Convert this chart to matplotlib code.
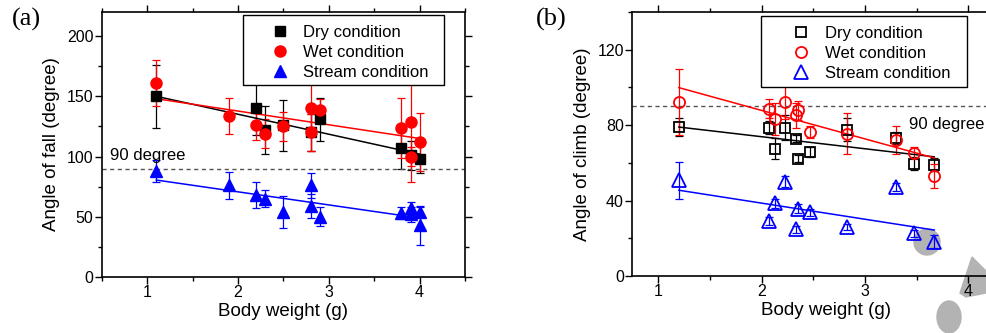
import matplotlib
matplotlib.use('Agg')
import matplotlib.pyplot as plt
from matplotlib.lines import Line2D
from matplotlib.patches import Rectangle, Circle, Polygon, Ellipse
from matplotlib.transforms import IdentityTransform
from matplotlib.ticker import MultipleLocator

plt.rcParams['font.family'] = ['Liberation Sans', 'DejaVu Sans']

# ---- panel (a): angle of fall ----
fall_dry_x = [1.1, 2.2, 2.3, 2.5, 2.8, 2.9, 3.8, 3.9, 4.0]
fall_dry_y = [150, 140, 122, 126, 120, 131, 107, 101, 98]
fall_dry_e = [26, 22, 20, 21, 15, 18, 17, 12, 12]

fall_wet_x = [1.1, 1.9, 2.2, 2.3, 2.5, 2.8, 2.8, 2.9, 3.8, 3.9, 3.9, 4.0]
fall_wet_y = [161, 134, 126, 119, 125, 140, 120, 139, 124, 129, 100, 112]
fall_wet_e = [19, 15, 12, 12, 12, 35, 15, 9, 25, 50, 8, 24]

fall_str_x = [1.1, 1.9, 2.2, 2.3, 2.5, 2.8, 2.8, 2.9, 3.8, 3.9, 3.9, 4.0, 4.0]
fall_str_y = [88, 76, 68, 65, 54, 76, 59, 50, 53, 57, 52, 54, 43]
fall_str_e = [9, 11, 11, 7, 13, 10, 10, 8, 5, 5, 6, 4, 16]

fall_fit_x = [1.1, 4.0]
fall_fit_dry = [150, 102]
fall_fit_wet = [148, 115]
fall_fit_str = [80.5, 49]

# ---- panel (b): angle of climb ----
climb_x = [1.2, 2.07, 2.13, 2.23, 2.33, 2.35, 2.47, 2.83, 3.30, 3.47, 3.67]
climb_dry_y = [79, 78.7, 67.6, 78.7, 72.9, 62.3, 65.8, 77.6, 73.2, 59.6, 59.1]
climb_dry_e = [5, 3.5, 5.5, 6.5, 2, 2, 2.5, 6, 3, 3.5, 3.5]
climb_wet_y = [92.3, 88.8, 83.1, 92.3, 85.2, 87.9, 76.4, 75.5, 72, 65.3, 53.1]
climb_wet_e = [17.5, 5, 8.5, 9, 6.5, 5, 3, 11, 7.5, 3, 6.5]
climb_str_y = [50.8, 29.3, 38.5, 50, 24.7, 35.8, 33.7, 26.1, 47.3, 22.6, 18.2]
climb_str_e = [9.7, 2, 2.5, 3, 2, 2.5, 2, 1.5, 2, 2, 3.5]

climb_fit_x = [1.2, 3.67]
climb_fit_dry = [79, 63.2]
climb_fit_wet = [99.9, 62.6]
climb_fit_str = [45.5, 24.4]

labels = ['Dry condition', 'Wet condition', 'Stream condition']
colors = ['black', 'red', 'blue']
markers = ['s', 'o', '^']
size_a = [7.5, 8, 9]
size_b = [7, 8, 9.5]

fig = plt.figure(figsize=(9.86, 3.33), dpi=100)
ax_a = fig.add_axes([0.1034, 0.168, 0.3682, 0.796])
ax_b = fig.add_axes([0.6413, 0.171, 0.3933, 0.793])
ax_b.patch.set_alpha(0)


def style_axes(ax, xlim, ylim, ymaj, ylabel):
    ax.set_xlim(*xlim)
    ax.set_ylim(*ylim)
    ax.xaxis.set_major_locator(MultipleLocator(1))
    ax.xaxis.set_minor_locator(MultipleLocator(0.5))
    ax.yaxis.set_major_locator(MultipleLocator(ymaj))
    ax.yaxis.set_minor_locator(MultipleLocator(ymaj / 2))
    ax.tick_params(which='both', direction='out', top=True, right=True,
                   labelsize=11.5, width=1, pad=1)
    ax.tick_params(which='major', length=5)
    ax.tick_params(which='minor', length=3)
    for s in ax.spines.values():
        s.set_linewidth(1.2)
    ax.set_xlabel('Body weight (g)', fontsize=13.5, labelpad=2)
    ax.set_ylabel(ylabel, fontsize=13.5, labelpad=5)


# panel (a)
sets_a = [(fall_dry_x, fall_dry_y, fall_dry_e, fall_fit_dry),
          (fall_wet_x, fall_wet_y, fall_wet_e, fall_fit_wet),
          (fall_str_x, fall_str_y, fall_str_e, fall_fit_str)]
for (x, y, e, fit), c, m, ms in zip(sets_a, colors, markers, size_a):
    ax_a.errorbar(x, y, yerr=e, fmt='none', ecolor=c, elinewidth=0.9,
                  capsize=3, capthick=0.9, zorder=2)
    ax_a.plot(x, y, ls='none', marker=m, color=c, markersize=ms, zorder=3)
    ax_a.plot(fall_fit_x, fit, color=c, lw=1.1, zorder=2.5)
ax_a.axhline(90, color='#555555', ls=(0, (3, 2.5)), lw=1)
ax_a.text(0.59, 97, '90 degree', fontsize=12)
style_axes(ax_a, (0.5, 4.5), (0, 220), 50, 'Angle of fall (degree)')

# panel (b)
sets_b = [(climb_dry_y, climb_dry_e, climb_fit_dry),
          (climb_wet_y, climb_wet_e, climb_fit_wet),
          (climb_str_y, climb_str_e, climb_fit_str)]
for (y, e, fit), c, m, ms in zip(sets_b, colors, markers, size_b):
    ax_b.errorbar(climb_x, y, yerr=e, fmt='none', ecolor=c, elinewidth=0.9,
                  capsize=3, capthick=0.9, zorder=2)
    ax_b.plot(climb_x, y, ls='none', marker=m, markerfacecolor='none',
              markeredgecolor=c, markeredgewidth=1.3, markersize=ms, zorder=3)
    ax_b.plot(climb_fit_x, fit, color=c, lw=1.1, zorder=2.5)
ax_b.axhline(90, color='#555555', ls=(0, (3, 2.5)), lw=1)
ax_b.text(3.43, 78, '90 degree', fontsize=12, clip_on=False)
style_axes(ax_b, (0.75, 4.5), (0, 140), 40, 'Angle of climb (degree)')

# legends: white box + frameless legend
for ax, box, anchor, filled, sizes in [
        (ax_a, (0.388, 0.725, 0.554, 0.264), (0.463, 0.952), True, size_a),
        (ax_b, (0.331, 0.716, 0.532, 0.269), (0.41, 0.948), False, size_b)]:
    ax.add_patch(Rectangle(box[:2], box[2], box[3], transform=ax.transAxes,
                           facecolor='white', edgecolor='black', lw=1, zorder=4))
    handles = [Line2D([], [], ls='none', marker=m,
                      markerfacecolor=(c if filled else 'none'), markeredgecolor=c,
                      markeredgewidth=(1 if filled else 1.3), markersize=ms)
               for c, m, ms in zip(colors, markers, sizes)]
    leg = ax.legend(handles, labels, loc='upper left', bbox_to_anchor=anchor,
                    frameon=False, fontsize=12, handlelength=1.2, handletextpad=0.8,
                    borderpad=0, borderaxespad=0, labelspacing=0.3)
    leg.set_zorder(5)

# panel tags
fig.text(0.012, 0.975, '(a)', fontsize=19, family='Liberation Serif', va='top')
fig.text(0.543, 0.975, '(b)', fontsize=19, family='Liberation Serif', va='top')

# grey watermark fragments
pix = IdentityTransform()
fig.patches.append(Circle((927, 91), 13, transform=pix, color='#b3b3b3', zorder=-1))
fig.patches.append(Polygon([(972, 76), (986, 62), (986, 40), (966, 36), (960, 40)],
                           closed=True, transform=pix, color='#b3b3b3', zorder=-1))
fig.patches.append(Ellipse((949, 16), 24, 32, transform=pix, color='#b3b3b3', zorder=-1))

fig.savefig('out.png', dpi=100)
